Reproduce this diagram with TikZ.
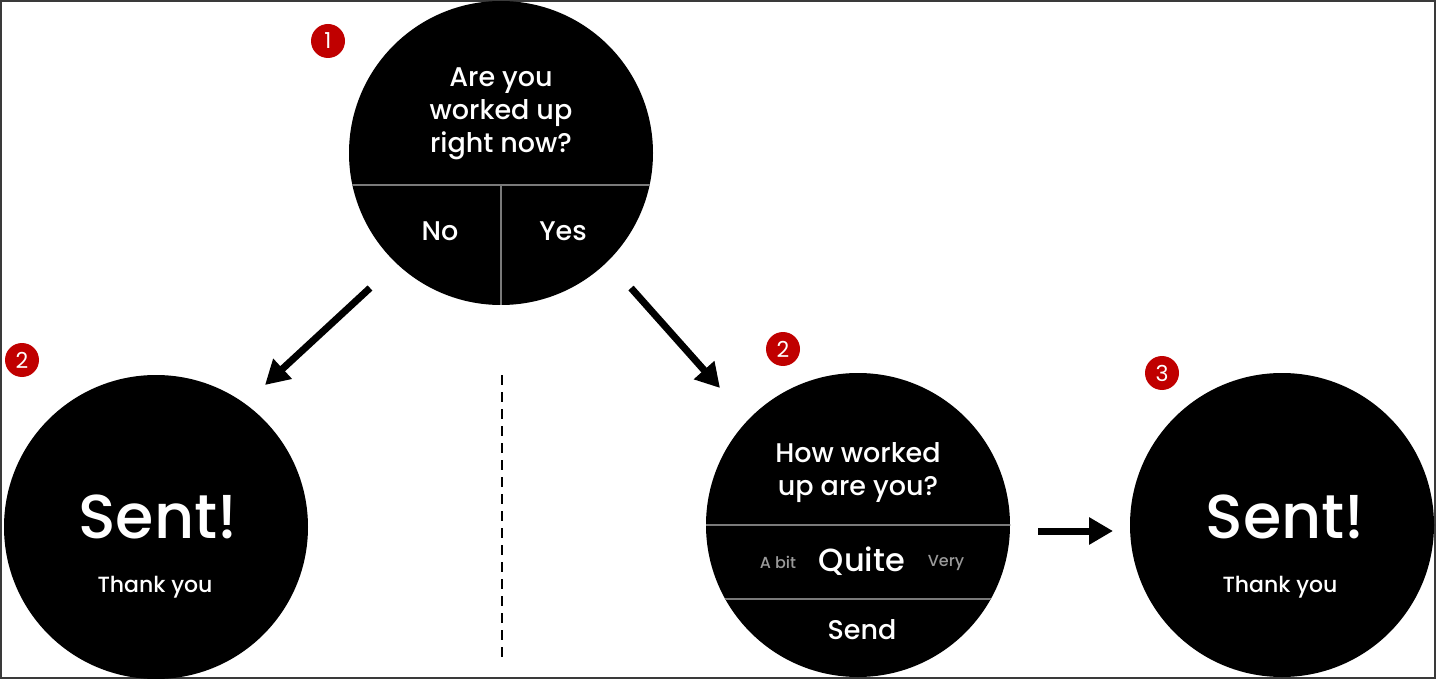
\documentclass[tikz,border=0pt]{standalone}
\usepackage{fontspec}
\setmainfont{Poppins}[BoldFont={Poppins Medium}]
\usetikzlibrary{arrows.meta}
\definecolor{badgered}{HTML}{C00000}
\definecolor{framegray}{HTML}{3A3A3A}
\definecolor{rulegray}{HTML}{7A7A7A}
\definecolor{dimgray}{HTML}{9A9A9A}

\tikzset{
  watch/.style={circle,fill=black,minimum size=304pt,inner sep=0pt},
  badge/.style={circle,fill=badgered,text=white,minimum size=34pt,inner sep=0pt,font=\fontsize{22}{22}\selectfont},
  label/.style={text=white,align=center,font=\bfseries\fontsize{27}{33}\selectfont},
  bigtext/.style={text=white,font=\bfseries\fontsize{62}{62}\selectfont},
  smalltext/.style={text=white,font=\bfseries\fontsize{22}{22}\selectfont},
  dimtext/.style={text=dimgray,font=\bfseries\fontsize{16}{16}\selectfont},
  divider/.style={rulegray,line width=1.5pt},
  flow/.style={line width=7pt,-{Triangle[length=24pt,width=26pt]}}
}

\begin{document}
\begin{tikzpicture}[x=1pt,y=-1pt]
  \useasboundingbox (0,0) rectangle (1436,679);
  \draw[framegray,line width=2pt] (1,1) rectangle (1435,678);

  % question screen
  \node[watch] (ask) at (501,153) {};
  \begin{scope}
    \clip (501,153) circle (152);
    \draw[divider] (340,185) -- (660,185);
    \draw[divider] (501,185) -- (501,310);
  \end{scope}
  \node[label] (asktext) at (501,114) {Are you\\worked up\\right now?};
  \node[label] (no) at (440,231) {No};
  \node[label] (yes) at (563,231) {Yes};
  \node[badge] (b1) at (328,41) {1};

  % answer no
  \node[watch] (sentl) at (156,527) {};
  \node[bigtext] (sentltext) at (158,517) {Sent!};
  \node[smalltext] (thankl) at (155,587) {Thank you};
  \node[badge] (b2l) at (22,360) {2};

  % answer yes
  \node[watch] (howmuch) at (858,525) {};
  \begin{scope}
    \clip (858,525) circle (152);
    \draw[divider] (700,525) -- (1016,525);
    \draw[divider] (700,599) -- (1016,599);
  \end{scope}
  \node[label] (howtext) at (858,473) {How worked\\up are you?};
  \node[dimtext] (abit) at (778,562) {A bit};
  \node[text=white,font=\bfseries\fontsize{32}{32}\selectfont] (quite) at (862,561) {Quite};
  \node[dimtext] (very) at (946,563) {Very};
  \node[label] (send) at (862,630) {Send};
  \node[badge] (b2r) at (783,349) {2};

  % confirmation
  \node[watch] (sentr) at (1282,525) {};
  \node[bigtext] (sentrtext) at (1285,517) {Sent!};
  \node[smalltext] (thankr) at (1280,587) {Thank you};
  \node[badge] (b3) at (1162,373) {3};

  % flow
  \coordinate (nostart) at (370,288);
  \coordinate (noend) at (265,385);
  \coordinate (yesstart) at (631,288);
  \coordinate (yesend) at (720,388);
  \coordinate (sendstart) at (1038,531);
  \coordinate (sendend) at (1113,531);
  \draw[flow] (nostart) -- (noend);
  \draw[flow] (yesstart) -- (yesend);
  \draw[flow] (sendstart) -- (sendend);

  \coordinate (cuttop) at (502,375);
  \coordinate (cutbot) at (502,657);
  \draw[line width=2.5pt,dash pattern=on 10pt off 7pt] (cuttop) -- (cutbot);
\end{tikzpicture}
\end{document}
